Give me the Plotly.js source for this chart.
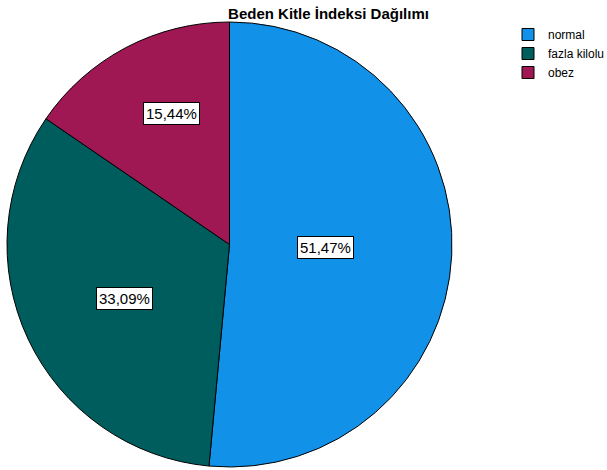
<!DOCTYPE html>
<html><head><meta charset="utf-8">
<script src="https://cdn.plot.ly/plotly-3.0.1.min.js"></script>
<style>html,body{margin:0;padding:0;background:#fff}</style>
</head><body>
<div id="chart" style="width:607px;height:470px"></div>
<script>
const categories = ["normal", "fazla kilolu", "obez"];
const counts = [70, 45, 21];
const colors = ["#1192e8", "#005d5d", "#9f1853"];
const titleText = "Beden Kitle İndeksi Dağılımı";

const W = 607, H = 470;
const domX = [7 / W, 452 / W];
const domY = [1 - 467 / H, 1 - 22 / H];
const labelFrac = [0.43, 0.53, 0.643];
const labelAngleOffsetDeg = [-1, -2, 4];

const total = counts.reduce((a, b) => a + b, 0);
const cx = (domX[0] + domX[1]) / 2 * W;
const cy = (1 - (domY[0] + domY[1]) / 2) * H;
const R = Math.min((domX[1] - domX[0]) * W, (domY[1] - domY[0]) * H) / 2;

const annotations = [];
let cum = 0;
counts.forEach((c, i) => {
  const mid = (cum + c / 2) / total * 2 * Math.PI + labelAngleOffsetDeg[i] * Math.PI / 180;
  cum += c;
  const px = cx + labelFrac[i] * R * Math.sin(mid);
  const py = cy - labelFrac[i] * R * Math.cos(mid);
  annotations.push({
    x: px / W, y: 1 - py / H, xref: "paper", yref: "paper",
    xanchor: "center", yanchor: "middle",
    text: (c / total * 100).toFixed(2).replace(".", ",") + "%",
    showarrow: false, bgcolor: "#ffffff", bordercolor: "#000000", borderwidth: 1,
    borderpad: 2, font: {family: "Liberation Sans, Arial, sans-serif", size: 15, color: "#000"}
  });
});

const trace = {
  type: "pie", labels: categories, values: counts, sort: false,
  direction: "clockwise", rotation: 0,
  marker: {colors: colors, line: {color: "#000000", width: 1}},
  textinfo: "none", hoverinfo: "label+percent",
  domain: {x: domX, y: domY}
};

const layout = {
  width: W, height: H, margin: {l: 0, r: 0, t: 0, b: 0, autoexpand: false},
  paper_bgcolor: "#fff",
  title: {text: titleText, x: 328.5 / W, xanchor: "center", y: 1 - 14 / H, yanchor: "middle",
    font: {family: "Liberation Sans, Arial, sans-serif", size: 15, color: "#000", weight: "bold"}},
  showlegend: true,
  legend: {x: 508 / W, y: 1 - 20 / H, xanchor: "left", yanchor: "top",
    font: {family: "Liberation Sans, Arial, sans-serif", size: 12, color: "#000"},
    bgcolor: "rgba(0,0,0,0)", itemclick: false},
  annotations: annotations
};

Plotly.newPlot("chart", [trace], layout, {displayModeBar: false, staticPlot: true});
</script>
</body></html>
